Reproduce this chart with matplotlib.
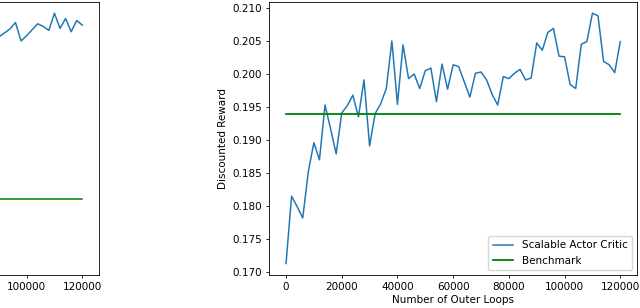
import matplotlib
matplotlib.use("Agg")
import matplotlib.pyplot as plt
import numpy as np

# === DATA ===
loops = np.arange(0, 120001, 2000)
sac_reward = [
    0.1713, 0.1815, 0.1799, 0.1782, 0.1852, 0.1896, 0.1870, 0.1953, 0.1917, 0.1879,
    0.1941, 0.1952, 0.1968, 0.1935, 0.1991, 0.1891, 0.1940, 0.1955, 0.1978, 0.2050,
    0.1954, 0.2044, 0.1993, 0.2000, 0.1978, 0.2005, 0.2009, 0.1958, 0.2015, 0.1977,
    0.2014, 0.2011, 0.1988, 0.1965, 0.2001, 0.2003, 0.1991, 0.1969, 0.1953, 0.1996,
    0.1993, 0.2001, 0.2007, 0.1991, 0.1994, 0.2047, 0.2036, 0.2063, 0.2069, 0.2027,
    0.2026, 0.1984, 0.1978, 0.2045, 0.2049, 0.2092, 0.2088, 0.2019, 0.2014, 0.2002,
    0.2049,
]
benchmark = 0.1939

# left panel, only its right end is inside the picture
left_loops = np.arange(90000, 120001, 2000)
left_reward = [
    0.2056, 0.2062, 0.2068, 0.2078, 0.2050, 0.2058, 0.2067, 0.2076, 0.2072, 0.2066,
    0.2092, 0.2069, 0.2084, 0.2064, 0.2081, 0.2074,
]
left_benchmark = 0.1811

# === STYLE ===
plt.rcParams['font.size'] = 7.5
plt.rcParams['axes.linewidth'] = 0.6
plt.rcParams['xtick.major.size'] = 2.5
plt.rcParams['ytick.major.size'] = 2.5
plt.rcParams['xtick.major.width'] = 0.6
plt.rcParams['ytick.major.width'] = 0.6
plt.rcParams['xtick.major.pad'] = 2.5
plt.rcParams['ytick.major.pad'] = 2.5

fig = plt.figure(figsize=(6.4, 3.08), dpi=100)
ax_l = fig.add_axes([-0.4198, 0.107, 0.5745, 0.8865])
ax_r = fig.add_axes([0.4208, 0.107, 0.5745, 0.8865])

xlim = (-6000, 126000)
ylim = (0.16955, 0.2109)

# left panel: its y labels sit outside the picture, so none are drawn
ax_l.plot(left_loops, left_reward, color='#1f77b4', lw=1.08)
ax_l.plot([0, 120000], [left_benchmark, left_benchmark], color='green', lw=1.08)
ax_l.set_xlim(*xlim)
ax_l.set_ylim(*ylim)
ax_l.set_xticks([100000, 120000])
ax_l.set_yticks([])

ax_r.plot(loops, sac_reward, color='#1f77b4', lw=1.08, label='Scalable Actor Critic')
ax_r.plot([0, 120000], [benchmark, benchmark], color='green', lw=1.3, label='Benchmark')
ax_r.set_xlim(*xlim)
ax_r.set_ylim(*ylim)
ax_r.set_xticks(np.arange(0, 120001, 20000))
ax_r.set_yticks(np.arange(0.170, 0.2101, 0.005))
ax_r.yaxis.set_major_formatter(matplotlib.ticker.FormatStrFormatter('%.3f'))
ax_r.set_xlabel('Number of Outer Loops', labelpad=2)
ax_r.set_ylabel('Discounted Reward', labelpad=3)
ax_r.legend(loc='lower right')

fig.savefig('out.png', dpi=100)
